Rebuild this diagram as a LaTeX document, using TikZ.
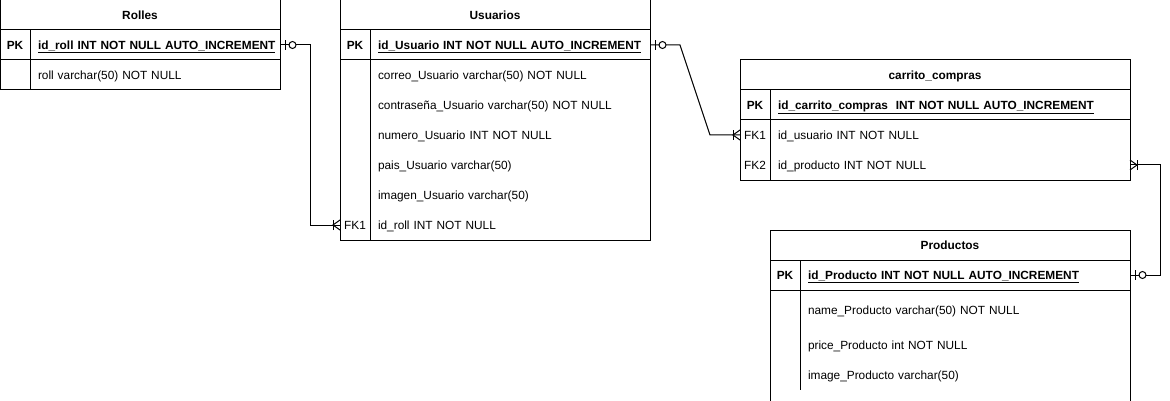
\documentclass[tikz,border=0pt]{standalone}
\usepackage{fontspec}
\setmainfont{Liberation Sans}
\usetikzlibrary{positioning,decorations.markings}

\begin{document}
\begin{tikzpicture}[x=1pt,y=-1pt,line width=1pt,
                    font=\fontsize{11.85}{14}\selectfont,
                    every node/.style={inner sep=0pt,outer sep=0pt,text height=10.5pt,text depth=1.5pt},
                    fld/.style={minimum height=30pt,inner xsep=8pt,text width=#1,align=left}]
  \tikzstyle{bold}=[font=\fontsize{11.85}{14}\selectfont\bfseries]
  \tikzstyle{title}=[bold,minimum height=30pt]
  \tikzstyle{key}=[minimum width=30pt,minimum height=30pt]
  \tikzstyle{zeroone start}=[postaction={decorate,decoration={markings,
      mark=at position 5pt with {\draw (0,-5pt) -- (0,5pt);},
      mark=at position 12.5pt with {\draw[fill=white] (0,0) circle (3.5pt);}}}]
  \tikzstyle{zeroone end}=[postaction={decorate,decoration={markings,
      mark=at position -12.5pt with {\draw[fill=white] (0,0) circle (3.5pt);},
      mark=at position -5pt with {\draw (0,-5pt) -- (0,5pt);}}}]
  \tikzstyle{many start}=[postaction={decorate,decoration={markings,
      mark=at position 7pt with {\draw (0,-5pt) -- (0,5pt);
                                 \draw (-7pt,-5pt) -- (0,0) -- (-7pt,5pt);}}}]
  \tikzstyle{many end}=[postaction={decorate,decoration={markings,
      mark=at position -7pt with {\draw (0,-5pt) -- (0,5pt);
                                  \draw (7pt,-5pt) -- (0,0) -- (7pt,5pt);}}}]

  \useasboundingbox (0,0) rectangle (1170,401);

  % Rolles
  \node[title,minimum width=280pt,anchor=north west] (rT) at (0,0) {Rolles};
  \node[key,bold,below=0pt of rT.south west,anchor=north west] (rK1) {PK};
  \node[fld=234pt,bold,right=0pt of rK1] (rF1) {\underline{id\_roll INT NOT NULL AUTO\_INCREMENT}};
  \node[key,below=0pt of rK1] (rK2) {};
  \node[fld=234pt,right=0pt of rK2] (rF2) {roll varchar(50) NOT NULL};
  \draw (rT.north west) rectangle (rF2.south east);
  \draw (rT.south west) -- (rT.south east)
        (rK1.south west) -- (rF1.south east)
        (rK1.north east) -- (rK2.south east);

  % Usuarios
  \node[title,minimum width=310pt,anchor=north west] (uT) at (340,0) {Usuarios};
  \node[key,bold,below=0pt of uT.south west,anchor=north west] (uK1) {PK};
  \node[fld=264pt,bold,right=0pt of uK1] (uF1) {\underline{id\_Usuario INT NOT NULL AUTO\_INCREMENT}};
  \node[key,below=0pt of uK1] (uK2) {};
  \node[fld=264pt,right=0pt of uK2] (uF2) {correo\_Usuario varchar(50) NOT NULL};
  \node[key,below=0pt of uK2] (uK3) {};
  \node[fld=264pt,right=0pt of uK3] (uF3) {contraseña\_Usuario varchar(50) NOT NULL};
  \node[key,below=0pt of uK3] (uK4) {};
  \node[fld=264pt,right=0pt of uK4] (uF4) {numero\_Usuario INT NOT NULL};
  \node[key,below=0pt of uK4] (uK5) {};
  \node[fld=264pt,right=0pt of uK5] (uF5) {pais\_Usuario varchar(50)};
  \node[key,below=0pt of uK5] (uK6) {};
  \node[fld=264pt,right=0pt of uK6] (uF6) {imagen\_Usuario varchar(50)};
  \node[key,below=0pt of uK6] (uK7) {FK1};
  \node[fld=264pt,right=0pt of uK7] (uF7) {id\_roll INT NOT NULL};
  \draw (uT.north west) rectangle (uF7.south east);
  \draw (uT.south west) -- (uT.south east)
        (uK1.south west) -- (uF1.south east)
        (uK1.north east) -- (uK7.south east);

  % carrito_compras
  \node[title,minimum width=390pt,anchor=north west] (cT) at (740,60) {carrito\_compras};
  \node[key,bold,below=0pt of cT.south west,anchor=north west] (cK1) {PK};
  \node[fld=344pt,bold,right=0pt of cK1] (cF1) {\underline{id\_carrito\_compras\ \ INT NOT NULL AUTO\_INCREMENT}};
  \node[key,below=0pt of cK1] (cK2) {FK1};
  \node[fld=344pt,right=0pt of cK2] (cF2) {id\_usuario INT NOT NULL};
  \node[key,below=0pt of cK2] (cK3) {FK2};
  \node[fld=344pt,right=0pt of cK3] (cF3) {id\_producto INT NOT NULL};
  \draw (cT.north west) rectangle (cF3.south east);
  \draw (cT.south west) -- (cT.south east)
        (cK1.south west) -- (cF1.south east)
        (cK1.north east) -- (cK3.south east);

  % Productos
  \node[title,minimum width=360pt,anchor=north west] (pT) at (770,230) {Productos};
  \node[key,bold,below=0pt of pT.south west,anchor=north west] (pK1) {PK};
  \node[fld=314pt,bold,right=0pt of pK1] (pF1) {\underline{id\_Producto INT NOT NULL AUTO\_INCREMENT}};
  \node[key,minimum height=40pt,below=0pt of pK1] (pK2) {};
  \node[fld=314pt,minimum height=40pt,right=0pt of pK2] (pF2) {name\_Producto varchar(50) NOT NULL};
  \node[key,below=0pt of pK2] (pK3) {};
  \node[fld=314pt,right=0pt of pK3] (pF3) {price\_Producto int NOT NULL};
  \node[key,below=0pt of pK3] (pK4) {};
  \node[fld=314pt,right=0pt of pK4] (pF4) {image\_Producto varchar(50)};
  \draw (pT.south west) ++(0,141) -- (pT.north west) -- (pT.north east) -- ++(0,171);
  \draw (pT.south west) -- (pT.south east)
        (pK1.south west) -- (pF1.south east)
        (pK1.north east) -- (pK4.south east);

  % relations
  \draw[zeroone start,many end] (rF1.east) -- ++(30,0) |- (uK7.west);
  \draw[zeroone start,many end] (uF1.east) -- ++(30,0) -- ([xshift=-30pt]cK2.west) -- (cK2.west);
  \draw[many start,zeroone end] (cF3.east) -- ++(30,0) |- (pF1.east);
\end{tikzpicture}
\end{document}
